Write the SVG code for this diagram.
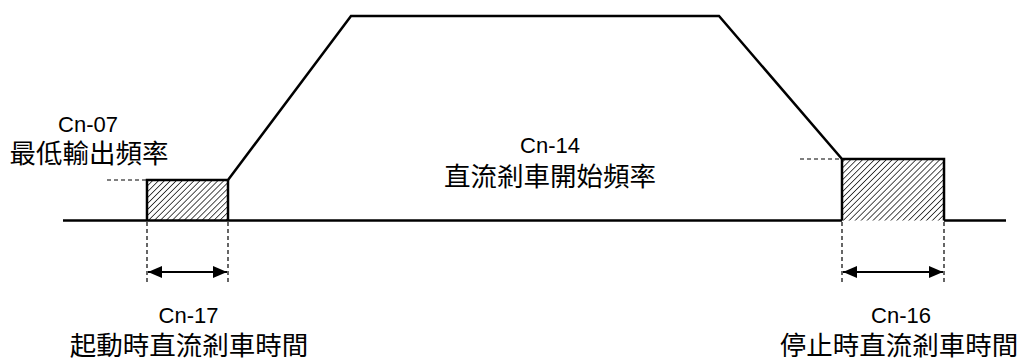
<svg xmlns="http://www.w3.org/2000/svg" width="1026" height="360" viewBox="0 0 1026 360">
<style>
.solid{fill:none;stroke:#000;stroke-width:2.5;stroke-linejoin:miter}
.dash{fill:none;stroke:#000;stroke-width:1.2;stroke-dasharray:4 3}
.arr{fill:none;stroke:#000;stroke-width:1.8}
.lat{font-family:"Liberation Sans",Arial,sans-serif;font-size:22px;fill:#000;text-anchor:middle}
.cjk{font-family:"Liberation Sans","Noto Sans CJK TC",sans-serif;font-size:26.5px;fill:#000;text-anchor:middle}
</style>
<defs>
<pattern id="hatch" patternUnits="userSpaceOnUse" width="4.2" height="4.2" patternTransform="rotate(45)">
<line x1="0" y1="0" x2="0" y2="4.2" stroke="#000" stroke-width="1.4"/>
</pattern>
<marker id="ah" markerWidth="14" markerHeight="12" refX="14" refY="6" orient="auto-start-reverse" markerUnits="userSpaceOnUse">
<path d="M0,0 L14,6 L0,12 Z" fill="#000"/>
</marker>
</defs>
<g id="hatched-boxes">
<rect x="147" y="180" width="81" height="40.5" fill="url(#hatch)"/>
<rect x="842" y="159" width="102" height="61.5" fill="url(#hatch)"/>
</g>
<g id="connectors">
<path id="baseline-left" class="solid" d="M63,220.5 H147"/>
<path id="profile" class="solid" d="M147,220.5 V180 H228 L351,16 H719 L842,159 H944 V220.5"/>
<path id="baseline-mid" class="solid" d="M147,220.5 H842"/>
<path id="baseline-right" class="solid" d="M944,220.5 H1006"/>
<path class="solid" d="M228,180 V220.5"/>
<path class="solid" d="M842,159 V220.5"/>
<path class="dash" d="M107,180 H147"/>
<path class="dash" d="M800,159 H842"/>
<path class="dash" d="M147,222 V283"/>
<path class="dash" d="M228,222 V283"/>
<path class="dash" d="M842,222 V283"/>
<path class="dash" d="M944,222 V283"/>
<path class="arr" d="M148,272 H227" marker-start="url(#ah)" marker-end="url(#ah)"/>
<path class="arr" d="M843,272 H943" marker-start="url(#ah)" marker-end="url(#ah)"/>
</g>
<g id="label-cn07">
<text class="lat" x="88" y="131.5">Cn-07</text>
<text class="cjk" x="89" y="163">最低輸出頻率</text>
</g>
<g id="label-cn14">
<text class="lat" x="550" y="152.5">Cn-14</text>
<text class="cjk" x="550" y="186">直流剎車開始頻率</text>
</g>
<g id="label-cn17">
<text class="lat" x="188.5" y="323">Cn-17</text>
<text class="cjk" x="189" y="354.5">起動時直流剎車時間</text>
</g>
<g id="label-cn16">
<text class="lat" x="901" y="323">Cn-16</text>
<text class="cjk" x="899" y="354.5">停止時直流剎車時間</text>
</g>
</svg>
